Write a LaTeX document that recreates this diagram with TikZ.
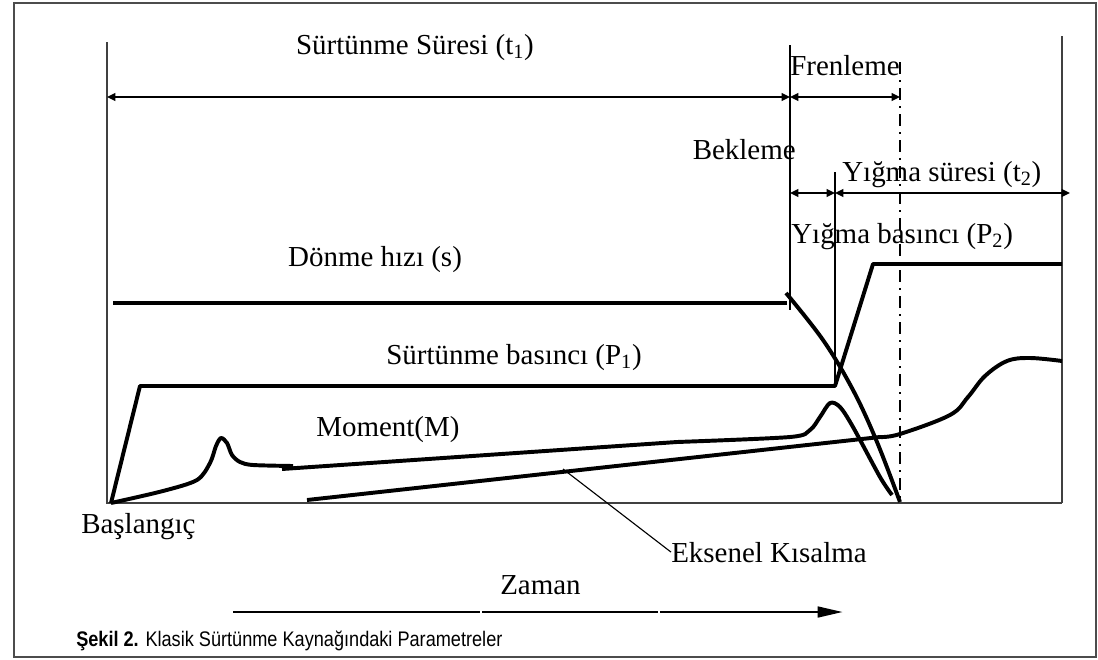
\documentclass[tikz,border=0pt]{standalone}
\usepackage{fontspec}
\setmainfont{Liberation Serif}
\newfontfamily\capfont[FakeStretch=0.86]{Liberation Sans}
\usetikzlibrary{arrows.meta}
\newcommand{\lblsize}{\fontsize{20.6}{24}\selectfont}

\tikzset{
  axisline/.style={line width=0.8pt, draw=black!75},
  marker/.style={line width=1.3pt},
  curve/.style={line width=2.8pt, line join=round},
  dimline/.style={line width=1.4pt, {Triangle[length=6pt,width=5.5pt]}-{Triangle[length=6pt,width=5.5pt]}},
  timeline/.style={line width=2.1pt},
  lbl/.style={font=\lblsize, inner sep=0pt},
}

\begin{document}
\begin{tikzpicture}[x=0.025cm,y=-0.025cm]
\useasboundingbox (0,0) rectangle (1098,659);
\draw[line width=1.1pt, draw=black!70] (14,3) rectangle (1096,657);
% axes and phase markers
\draw[axisline] (107,42) -- (107,503) -- (1062,503);
\draw[axisline] (1062,36) -- (1062,503);
\draw[marker] (790,45) -- (790,310);
\draw[marker] (835,172) -- (835,385);
\draw[line width=2pt, dash pattern=on 8.5pt off 4.3pt on 1.4pt off 4.3pt] (900,62) -- (900,503);
% time spans
\draw[dimline] (107,97) -- (790,97);
\draw[dimline] (790,97) -- (900,97);
\draw[dimline] (790,193) -- (835,193);
\draw[dimline] (835,193) -- (1070,193);
% speed
\draw[curve] (113,303) -- (787,303);
\draw[curve] plot[smooth, tension=0.6] coordinates {(786,293) (823,340) (853,390) (877,442) (900,502)};
% pressure
\draw[curve] (111,503) -- (140,386) -- (835,386) -- (873,264) -- (1062,264);
% moment
\draw[curve] plot[smooth, tension=0.5] coordinates {(111,503) (163,491) (197,480) (210,463) (216,446) (221,438) (227,443) (232,455) (240,462) (253,465) (293,466)};
\draw[curve] (282,469) -- (677,442) -- plot[smooth, tension=0.5] coordinates {(677,442) (790,437) (810,430) (820,417) (830,403) (840,407) (853,427) (880,477) (892,495)};
% axial shortening
\draw[curve] (307,500) -- (880,437) -- plot[smooth, tension=0.6] coordinates {(880,437) (900,434) (950,415) (968,397) (985,376) (1007,361) (1030,358) (1062,361)};
% labels
\node[lbl, anchor=base] (t1lbl) at (415,54) {Sürtünme Süresi (t\textsubscript{1})};
\node[lbl, anchor=base west] (frenlbl) at (790,75) {Frenleme};
\node[lbl, anchor=base east] (beklbl) at (796,159) {Bekleme};
\node[lbl, anchor=base west] (t2lbl) at (842,181) {Yığma süresi (t\textsubscript{2})};
\node[lbl, anchor=base west] (p2lbl) at (791,243) {Yığma basıncı (P\textsubscript{2})};
\node[lbl, anchor=base] (donlbl) at (375,266) {Dönme hızı (s)};
\node[lbl, anchor=base west] (p1lbl) at (386,364) {Sürtünme basıncı (P\textsubscript{1})};
\node[lbl, anchor=base west] (momlbl) at (316,436) {Moment(M)};
\node[lbl, anchor=base west] (baslbl) at (81,533) {Başlangıç};
\node[lbl, anchor=base west] (eks) at (671,562) {Eksenel Kısalma};
\node[lbl, anchor=base west] (zamlbl) at (500,594) {Zaman};
\coordinate (ekspt) at (563,469);
\draw[line width=0.8pt] (ekspt) -- (eks.west);
% time arrow
\draw[timeline] (233,612) -- (480,612);
\draw[timeline] (482,612) -- (658,612);
\draw[timeline, -{Triangle[length=18pt,width=7.5pt]}] (660,612) -- (843,612);
\node[anchor=base west, inner sep=0pt, font=\capfont\fontsize{15}{18}\selectfont] (cap) at (76,646) {\textbf{Şekil 2.} Klasik Sürtünme Kaynağındaki Parametreler};
\end{tikzpicture}
\end{document}
